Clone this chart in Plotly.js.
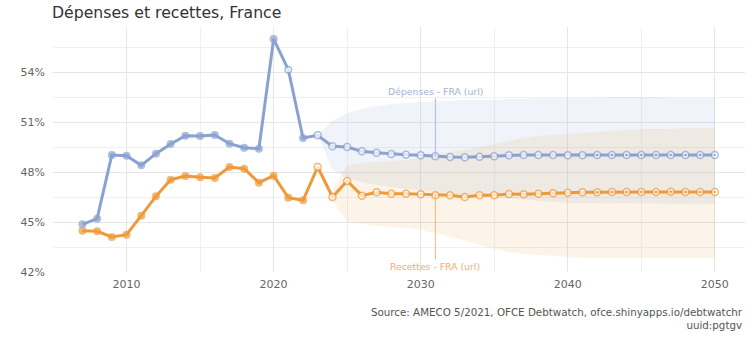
<!DOCTYPE html>
<html>
<head>
<meta charset="utf-8">
<script src="https://cdn.plot.ly/plotly-3.0.1.min.js"></script>
<style>
html,body{margin:0;padding:0;background:#fff;}
#chart{width:754px;height:337px;}
</style>
</head>
<body>
<div id="chart"></div>
<script>
// ---- data ----
const years = [2007,2008,2009,2010,2011,2012,2013,2014,2015,2016,2017,2018,2019,2020,2021,2022,
  2023,2024,2025,2026,2027,2028,2029,2030,2031,2032,2033,2034,2035,2036,2037,2038,2039,2040,
  2041,2042,2043,2044,2045,2046,2047,2048,2049,2050];
const depenses = [44.86,45.2,49.02,48.98,48.4,49.1,49.68,50.18,50.16,50.22,49.7,49.46,49.4,55.98,54.14,50.04,
  50.2,49.54,49.5,49.24,49.16,49.08,49.04,49.0,48.94,48.9,48.88,48.92,48.94,49.0,49.02,49.02,49.02,49.0,
  49.0,49.02,49.02,49.02,49.02,49.02,49.02,49.02,49.02,49.02];
const recettes = [44.48,44.44,44.1,44.24,45.38,46.54,47.54,47.76,47.68,47.64,48.3,48.2,47.36,47.78,46.46,46.3,
  48.3,46.5,47.46,46.58,46.78,46.7,46.7,46.66,46.6,46.6,46.5,46.6,46.6,46.68,46.66,46.7,46.72,46.76,
  46.78,46.78,46.8,46.8,46.8,46.8,46.82,46.8,46.8,46.8];
const openYearsDep = [2021];
const projectionStart = 2023;
const dotStart = 2042;

const bandDepYears = [2023,2024,2025,2026,2027,2028,2029,2030,2031,2032,2033,2034,2035,2036,2037,2038,2039,2040,2041,2042,2043,2044,2045,2046,2047,2048,2049,2050];
const bandDepHigh = [50.22,51.06,51.54,51.78,51.96,52.08,52.14,52.2,52.26,52.26,52.32,52.32,52.32,52.38,52.38,52.44,52.44,52.44,52.44,52.44,52.5,52.5,52.5,52.5,52.44,52.44,52.44,52.44];
const bandDepLow  = [50.22,48.12,47.64,47.4,47.22,47.1,46.98,46.86,46.78,46.68,46.6,46.52,46.44,46.38,46.32,46.26,46.2,46.14,46.12,46.1,46.08,46.08,46.08,46.08,46.08,46.08,46.08,46.08];

const bandRecYears = [2024,2025,2026,2027,2028,2029,2030,2031,2032,2033,2034,2035,2036,2037,2038,2039,2040,2041,2042,2043,2044,2045,2046,2047,2048,2049,2050];
const bandRecHigh = [46.92,48.42,48.54,48.6,48.66,48.72,48.84,49.02,49.2,49.32,49.5,49.68,49.86,50.04,50.16,50.22,50.28,50.34,50.4,50.46,50.52,50.58,50.58,50.58,50.64,50.64,50.64];
const bandRecLow  = [46.32,45.0,44.88,44.76,44.7,44.64,44.52,44.34,44.1,43.86,43.62,43.38,43.2,43.08,43.02,42.96,42.9,42.84,42.84,42.84,42.84,42.84,42.84,42.84,42.84,42.84,42.84];

const yTickVals = [42,45,48,51,54];
const yTickText = ["42%","45%","48%","51%","54%"];
const labelYear = 2031;
const title = "Dépenses et recettes, France";
const depLabel = "Dépenses - FRA (url)";
const recLabel = "Recettes - FRA (url)";
const sourceLines = ["Source: AMECO 5/2021, OFCE Debtwatch, ofce.shinyapps.io/debtwatchr", "uuid:pgtgv"];

// ---- styles ----
const blue = "#8aa2d0";
const orange = "#ef9a3a";
const blueBand = "rgba(138,162,208,0.13)";
const orangeBand = "rgba(239,154,58,0.11)";

function markerFor(color, openYears) {
  return {
    symbol: years.map(y => y >= dotStart ? "circle-dot" : "circle"),
    size: years.map(y => y >= projectionStart ? 7 : 6.5),
    color: years.map(y => (y >= projectionStart || openYears.includes(y)) ? "#ffffff" : color),
    line: {color: color, width: 1.5}
  };
}

function band(xs, hi, lo, fill) {
  return {
    x: xs.concat(xs.slice().reverse()),
    y: hi.concat(lo.slice().reverse()),
    type: "scatter", mode: "lines", fill: "toself", fillcolor: fill,
    line: {width: 0}, hoverinfo: "skip", showlegend: false
  };
}

const traces = [
  band(bandDepYears, bandDepHigh, bandDepLow, blueBand),
  band(bandRecYears, bandRecHigh, bandRecLow, orangeBand),
  {x: years, y: depenses, type: "scatter", mode: "lines+markers", line: {color: blue, width: 3}, marker: markerFor(blue, openYearsDep), showlegend: false},
  {x: years, y: recettes, type: "scatter", mode: "lines+markers", line: {color: orange, width: 3}, marker: markerFor(orange, []), showlegend: false}
];

const li = years.indexOf(labelYear);
const font = "DejaVu Sans, sans-serif";

const layout = {
  width: 754, height: 337,
  margin: {l: 53, r: 9, t: 27, b: 65},
  paper_bgcolor: "#fff", plot_bgcolor: "#fff",
  font: {family: font, color: "#666", size: 11},
  title: {text: title, x: 52/754, xanchor: "left", y: 1 - 13/337, yanchor: "middle", font: {family: font, size: 15.7, color: "#333"}},
  xaxis: {
    range: [2005, 2052.05], dtick: 10, tick0: 2010, showgrid: true, gridcolor: "#e6e6e6", gridwidth: 1,
    minor: {dtick: 5, tick0: 2005, showgrid: true, gridcolor: "#f0f0f0", gridwidth: 1},
    zeroline: false, showline: false, ticks: "", ticklabelstandoff: 4, tickfont: {size: 11, color: "#666"}
  },
  yaxis: {
    range: [42, 56.7], tickmode: "array", tickvals: yTickVals, ticktext: yTickText, showgrid: true, gridcolor: "#e6e6e6", gridwidth: 1,
    minor: {dtick: 1.5, tick0: 42, showgrid: true, gridcolor: "#f0f0f0", gridwidth: 1},
    zeroline: false, showline: false, ticks: "", ticklabelstandoff: 7, tickfont: {size: 11, color: "#666"}
  },
  annotations: [
    {x: labelYear, y: depenses[li], xref: "x", yref: "y", text: depLabel, showarrow: true, arrowhead: 0, arrowwidth: 1, arrowcolor: "#a9b8d6", ax: 0, ay: -65, font: {size: 9.3, color: "#a4b3d0"}},
    {x: labelYear, y: recettes[li], xref: "x", yref: "y", text: recLabel, showarrow: true, arrowhead: 0, arrowwidth: 1, arrowcolor: "#f2b77e", ax: 0, ay: 71, font: {size: 9.3, color: "#f0ad6c"}},
    {x: 1, y: -0.132, xref: "paper", yref: "paper", xanchor: "right", yanchor: "top", align: "right", showarrow: false,
     text: sourceLines.join("<br>"), font: {size: 10.3, color: "#555"}}
  ]
};

Plotly.newPlot("chart", traces, layout, {displayModeBar: false, staticPlot: true});
</script>
</body>
</html>
